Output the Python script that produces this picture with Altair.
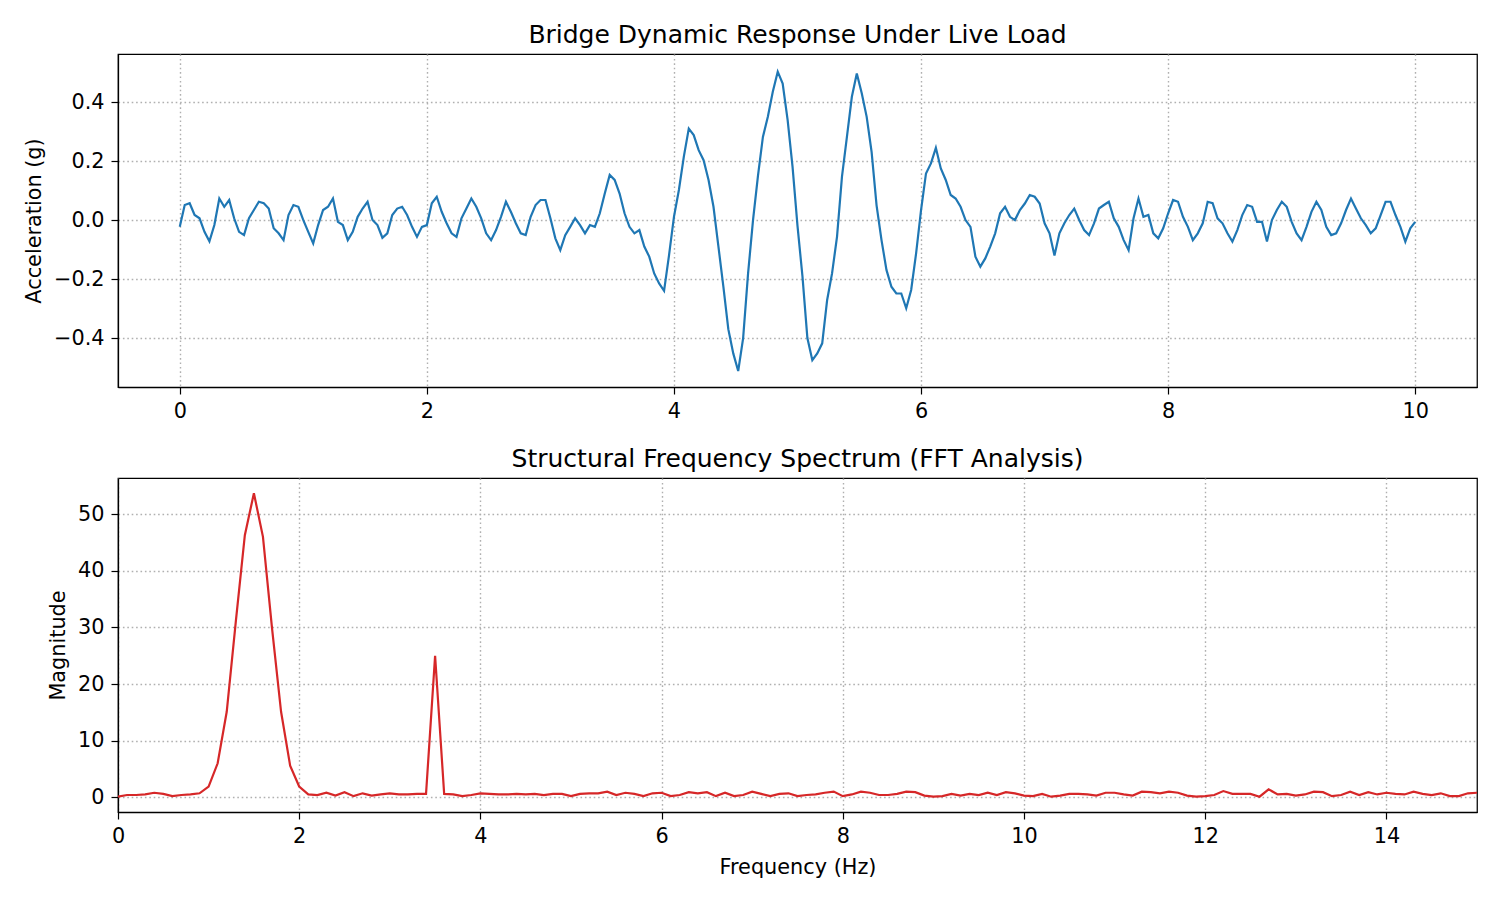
import altair as alt
import pandas as pd

# ---- Time-domain response (at 0.04 s spacing) ----
time_s = [round(i * 0.04, 2) for i in range(251)]
accel_g = [
    -0.023, 0.051, 0.057, 0.017, 0.006, -0.040, -0.072, -0.017, 0.073, 0.045,   # 0.00-0.36
    0.068, 0.006, -0.040, -0.051, 0.006, 0.034, 0.062, 0.057, 0.039, -0.028,    # 0.40-0.76
    -0.045, -0.068, 0.017, 0.051, 0.045, 0.000, -0.040, -0.079, -0.017, 0.034,  # 0.80-1.16
    0.045, 0.073, -0.006, -0.017, -0.068, -0.040, 0.011, 0.039, 0.062, 0.000,   # 1.20-1.56
    -0.017, -0.060, -0.045, 0.017, 0.039, 0.045, 0.017, -0.023, -0.057, -0.023, # 1.60-1.96
    -0.017, 0.057, 0.079, 0.028, -0.011, -0.045, -0.057, 0.006, 0.039, 0.073,   # 2.00-2.36
    0.045, 0.006, -0.045, -0.068, -0.034, 0.011, 0.062, 0.028, -0.011, -0.045,  # 2.40-2.76
    -0.051, 0.011, 0.051, 0.068, 0.068, 0.006, -0.062, -0.102, -0.051, -0.023,  # 2.80-3.16
    0.006, -0.017, -0.045, -0.017, -0.023, 0.023, 0.090, 0.153, 0.136, 0.090,   # 3.20-3.56
    0.023, -0.023, -0.045, -0.034, -0.090, -0.124, -0.181, -0.215, -0.240, -0.120, # 3.60-3.96
    0.011, 0.102, 0.215, 0.310, 0.288, 0.237, 0.203, 0.136, 0.045, -0.090,      # 4.00-4.36
    -0.226, -0.370, -0.452, -0.512, -0.400, -0.181, 0.000, 0.150, 0.282, 0.350, # 4.40-4.76
    0.435, 0.503, 0.463, 0.340, 0.180, -0.020, -0.190, -0.400, -0.475, -0.452,  # 4.80-5.16
    -0.418, -0.271, -0.180, -0.056, 0.147, 0.282, 0.418, 0.497, 0.430, 0.350,   # 5.20-5.56
    0.230, 0.050, -0.068, -0.169, -0.226, -0.249, -0.249, -0.299, -0.237, -0.113, # 5.60-5.96
    0.034, 0.158, 0.192, 0.245, 0.175, 0.136, 0.085, 0.073, 0.045, 0.000,       # 6.00-6.36
    -0.023, -0.124, -0.158, -0.130, -0.090, -0.045, 0.023, 0.045, 0.011, 0.000, # 6.40-6.76
    0.034, 0.056, 0.085, 0.079, 0.056, -0.011, -0.045, -0.120, -0.045, -0.011,  # 6.80-7.16
    0.017, 0.039, 0.000, -0.034, -0.051, -0.011, 0.039, 0.051, 0.062, 0.006,    # 7.20-7.56
    -0.023, -0.068, -0.102, 0.006, 0.073, 0.011, 0.017, -0.045, -0.062, -0.028, # 7.60-7.96
    0.023, 0.068, 0.062, 0.011, -0.023, -0.068, -0.045, -0.011, 0.062, 0.057,   # 8.00-8.36
    0.006, -0.011, -0.045, -0.073, -0.034, 0.017, 0.051, 0.045, -0.006, -0.006, # 8.40-8.76
    -0.073, 0.000, 0.034, 0.062, 0.045, -0.006, -0.045, -0.068, -0.023, 0.028,  # 8.80-9.16
    0.062, 0.034, -0.023, -0.051, -0.045, -0.011, 0.034, 0.073, 0.039, 0.006,   # 9.20-9.56
    -0.017, -0.045, -0.028, 0.017, 0.062, 0.062, 0.017, -0.023, -0.073, -0.028, # 9.60-9.96
    -0.006,                                                                     # 10.00
]

# ---- Frequency spectrum (0.1 Hz bins) ----
freq_hz = [round(i * 0.1, 1) for i in range(151)]
magnitude = [
    0.1, 0.4, 0.4, 0.5, 0.8, 0.6, 0.2, 0.4, 0.5, 0.7,          # 0.0-0.9
    1.9, 6.0, 15.1, 31.0, 46.3, 53.7, 46.0, 29.9, 15.1, 5.6,   # 1.0-1.9
    1.9, 0.5, 0.4, 0.8, 0.3, 0.9, 0.2, 0.7, 0.3, 0.5,          # 2.0-2.9
    0.7, 0.5, 0.5, 0.6, 0.6, 25.0, 0.6, 0.5, 0.2, 0.4,         # 3.0-3.9
    0.7, 0.6, 0.5, 0.5, 0.6, 0.5, 0.6, 0.4, 0.6, 0.6,          # 4.0-4.9
    0.2, 0.6, 0.7, 0.7, 1.0, 0.4, 0.8, 0.6, 0.2, 0.7,          # 5.0-5.9
    0.8, 0.2, 0.4, 0.9, 0.7, 0.9, 0.2, 0.8, 0.2, 0.4,          # 6.0-6.9
    1.0, 0.6, 0.2, 0.6, 0.7, 0.2, 0.4, 0.5, 0.8, 1.0,          # 7.0-7.9
    0.2, 0.5, 1.0, 0.8, 0.4, 0.4, 0.6, 1.0, 0.9, 0.3,          # 8.0-8.9
    0.1, 0.2, 0.6, 0.3, 0.6, 0.4, 0.8, 0.4, 0.9, 0.7,          # 9.0-9.9
    0.3, 0.2, 0.6, 0.1, 0.3, 0.6, 0.6, 0.5, 0.3, 0.8,          # 10.0-10.9
    0.8, 0.5, 0.3, 1.0, 0.9, 0.7, 1.0, 0.8, 0.3, 0.1,          # 11.0-11.9
    0.2, 0.4, 1.1, 0.6, 0.6, 0.6, 0.1, 1.4, 0.5, 0.6,          # 12.0-12.9
    0.3, 0.5, 1.0, 0.9, 0.2, 0.4, 1.0, 0.4, 0.9, 0.5,          # 13.0-13.9
    0.8, 0.6, 0.5, 1.0, 0.6, 0.4, 0.7, 0.2, 0.2, 0.7,          # 14.0-14.9
    0.8,                                                       # 15.0
]

df_t = pd.DataFrame({"t": time_s, "a": accel_g})
df_f = pd.DataFrame({"f": freq_hz, "m": magnitude})

FONT = "DejaVu Sans"
minus_expr = "replace(format(datum.value, '{fmt}'), '-', '\u2212')"

top = alt.Chart(df_t).mark_line(color="#1f77b4", strokeWidth=2.2, clip=True).encode(
    x=alt.X("t:Q",
            scale=alt.Scale(domain=[-0.5, 10.5], nice=False, zero=False),
            axis=alt.Axis(values=[0, 2, 4, 6, 8, 10], format="d", title=None,
                          labelFlush=False)),
    y=alt.Y("a:Q",
            scale=alt.Scale(domain=[-0.566, 0.563], nice=False, zero=False),
            axis=alt.Axis(values=[-0.4, -0.2, 0.0, 0.2, 0.4],
                          labelExpr=minus_expr.format(fmt=".1f"),
                          title="Acceleration (g)", titlePadding=9)),
).properties(
    width=1359, height=333,
    title=alt.TitleParams("Bridge Dynamic Response Under Live Load"),
)

bottom = alt.Chart(df_f).mark_line(color="#d62728", strokeWidth=2.2, clip=True).encode(
    x=alt.X("f:Q",
            scale=alt.Scale(domain=[0, 15], nice=False, zero=False),
            axis=alt.Axis(values=[0, 2, 4, 6, 8, 10, 12, 14], format="d",
                          title="Frequency (Hz)", titlePadding=12,
                          labelFlush=False)),
    y=alt.Y("m:Q",
            scale=alt.Scale(domain=[-2.6, 56.4], nice=False, zero=False),
            axis=alt.Axis(values=[0, 10, 20, 30, 40, 50], format="d",
                          title="Magnitude", titlePadding=9)),
).properties(
    width=1359, height=334,
    title=alt.TitleParams("Structural Frequency Spectrum (FFT Analysis)"),
)

chart = alt.vconcat(top, bottom, spacing=24).properties(
    padding={"left": 14, "top": 14, "right": 5, "bottom": 5},
    background="white",
).configure_view(
    stroke="black", strokeWidth=1.25,
).configure_axis(
    grid=True, gridColor="#b0b0b0", gridDash=[1.6, 2.8], gridWidth=1.4,
    domainColor="black", domainWidth=1.25,
    tickColor="black", tickSize=7, tickWidth=1.2,
    labelFont=FONT, labelFontSize=20.8, labelColor="black", labelPadding=7,
    titleFont=FONT, titleFontSize=20.8, titleFontWeight="normal", titleColor="black",
).configure_title(
    font=FONT, fontSize=25, fontWeight="normal", color="black", anchor="middle", offset=6,
)

chart.save("out.html", embed_options={"renderer": "svg", "actions": False})
